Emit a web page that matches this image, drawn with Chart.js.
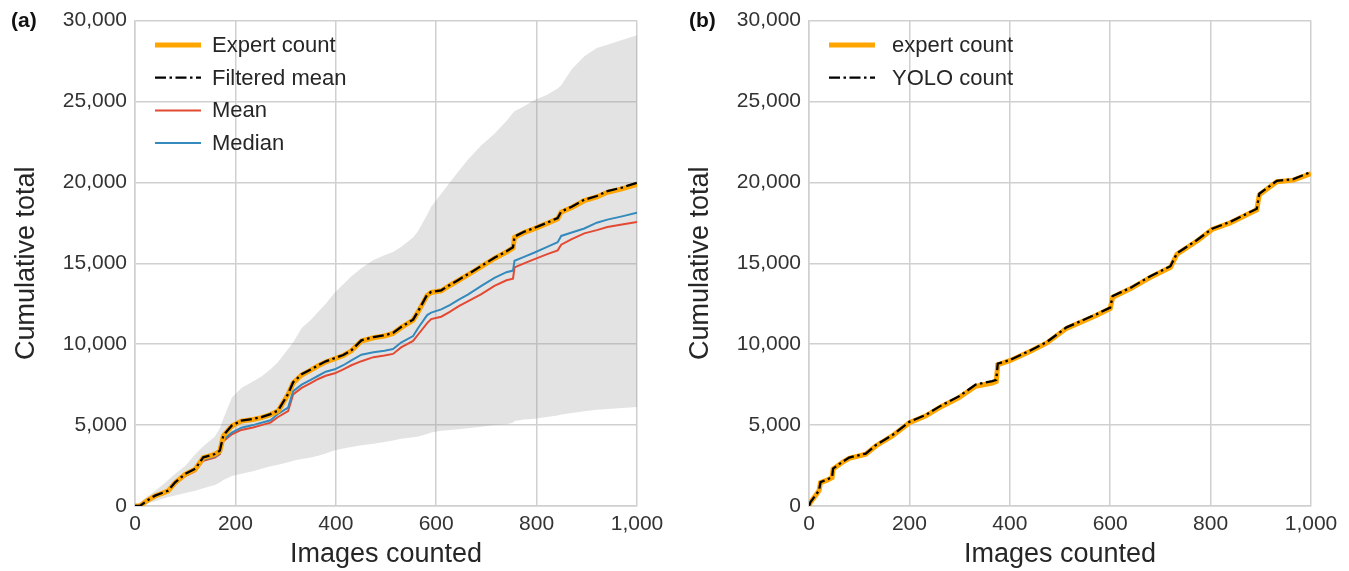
<!DOCTYPE html>
<html><head><meta charset="utf-8">
<script src="https://cdn.jsdelivr.net/npm/chart.js@4"></script>
<style>
html,body{margin:0;padding:0;background:#fff;}
body{width:1349px;height:571px;position:relative;overflow:hidden;font-family:"Liberation Sans",Arial,sans-serif;}
canvas{position:absolute;top:0;}
#ca{left:0;} #cb{left:674px;}
.lab{position:absolute;top:8px;font-weight:bold;font-size:21px;color:#111;line-height:24px;}
</style></head><body>
<canvas id="ca" width="674" height="571"></canvas>
<canvas id="cb" width="675" height="571"></canvas>
<div class="lab" style="left:11px">(a)</div>
<div class="lab" style="left:689px">(b)</div>
<script>
// ---- Panel (a) data ----
const imagesA = [0,10,25,40,55,66,80,100,120,136,159,169,176,193,212,235,252,270,285,305,315,332,350,365,380,398,415,431,451,475,497,514,530,554,564,582,590,610,627,645,663,690,716,740,753,756,775,796,820,842,849,870,895,920,941,970,1000];
const expertA = [0,0,350,620,800,930,1440,1960,2270,2990,3190,3400,4330,4950,5250,5350,5460,5650,5870,6900,7600,8100,8400,8670,8900,9100,9300,9590,10200,10400,10510,10670,11020,11490,12000,13020,13200,13300,13630,13950,14280,14800,15300,15700,15950,16600,16900,17140,17450,17750,18160,18450,18870,19100,19390,19600,19880];
const filteredA = [0,0,360,640,820,950,1460,1980,2300,3010,3210,3420,4360,4980,5270,5380,5490,5680,5900,6930,7650,8140,8430,8700,8940,9140,9330,9620,10240,10440,10550,10700,11060,11520,12040,13060,13230,13330,13660,13990,14320,14840,15340,15740,15990,16650,16950,17190,17500,17800,18200,18500,18930,19160,19460,19680,19980];
const meanA = [0,0,300,550,750,880,1350,1850,2150,2800,3000,3200,4000,4430,4700,4850,5000,5150,5500,5870,6900,7300,7600,7850,8050,8200,8450,8700,8950,9200,9300,9400,9800,10200,10600,11300,11550,11700,12000,12350,12650,13100,13600,13950,14050,14750,15000,15260,15550,15800,16150,16500,16850,17050,17240,17400,17560];
const medianA = [0,0,320,580,780,900,1400,1900,2200,2850,3050,3250,4100,4530,4840,5000,5150,5300,5700,6080,7100,7500,7800,8050,8300,8450,8700,9000,9350,9500,9600,9700,10100,10500,11000,11800,11950,12150,12410,12750,13060,13600,14100,14450,14550,15160,15400,15670,16000,16300,16690,16900,17150,17510,17700,17900,18120];
const upperA = [0,250,600,950,1300,1600,2000,2470,3200,3700,4300,4800,5400,6700,7300,7700,8000,8450,8900,9700,10100,11000,11500,12000,12500,13200,13700,14200,14700,15200,15500,15700,16000,16600,17000,18000,18500,19300,20000,20700,21400,22300,23000,23800,24300,24400,24700,25100,25400,25800,26000,27000,27800,28300,28500,28800,29100];
const lowerA = [0,50,150,300,450,550,650,800,950,1100,1300,1450,1600,1850,2000,2150,2300,2450,2550,2700,2800,2900,3000,3100,3250,3450,3550,3650,3750,3850,3950,4050,4150,4250,4300,4450,4550,4650,4700,4750,4800,4900,5000,5050,5150,5250,5350,5400,5500,5600,5650,5750,5850,5950,6000,6050,6120];

// ---- Panel (b) data ----
const imagesB = [0,3,20,23,36,46,48,66,80,113,133,166,200,232,265,298,332,365,373,376,400,440,473,513,573,600,605,640,680,720,733,773,803,839,892,897,932,965,1000];
const expertB = [0,225,940,1450,1600,1760,2280,2690,2950,3200,3710,4330,5150,5560,6170,6680,7400,7600,7700,8730,8980,9550,10060,10980,11790,12200,12910,13420,14130,14750,15560,16380,17090,17500,18310,19230,20040,20140,20550];
const yoloB = [0,240,960,1480,1630,1790,2310,2720,2990,3240,3760,4380,5200,5620,6240,6760,7500,7720,7800,8800,9020,9600,10120,11040,11860,12260,12980,13480,14200,14820,15620,16440,17140,17560,18370,19300,20100,20200,20650];

// ---- Axis tick settings ----
const xTicksStep = 200, xMin = 0, xMax = 1000;
const yTicksStep = 5000, yMin = 0, yMax = 30000;

const F = '"Liberation Sans", Arial, sans-serif';
const GRID = '#d0d0d0';

function pts(xs, ys){ return xs.map((x,i)=>({x:x, y:ys[i]})); }

function legendPlugin(lineX, textX, y0, dy){
  return { id:'customLegend', afterDatasetsDraw(chart){
    const ctx = chart.ctx; ctx.save();
    let i = 0;
    chart.data.datasets.forEach(ds=>{
      if(!ds.showInLegend) return;
      const y = y0 + i*dy; i++;
      ctx.beginPath(); ctx.strokeStyle = ds.borderColor; ctx.lineWidth = ds.borderWidth;
      ctx.setLineDash(ds.borderDash || []); ctx.lineCap='butt';
      ctx.moveTo(lineX, y); ctx.lineTo(lineX+46, y); ctx.stroke();
      ctx.setLineDash([]);
      ctx.fillStyle = '#262626'; ctx.font = '22px ' + F; ctx.textBaseline = 'middle'; ctx.textAlign='left';
      ctx.fillText(ds.label, textX, y+1);
    });
    ctx.restore();
  }};
}

function makeOpts(padRight){
  return {
    responsive:false, animation:false, devicePixelRatio:1,
    layout:{padding:{left:0,right:padRight,top:16,bottom:0}},
    plugins:{legend:{display:false}, tooltip:{enabled:false}},
    elements:{point:{radius:0}, line:{tension:0}},
    scales:{
      x:{type:'linear', min:xMin, max:xMax,
        afterFit(s){ s.height = 65; },
        ticks:{stepSize:xTicksStep, color:'#333', font:{family:F,size:21}, padding:6, maxRotation:0, autoSkip:false},
        grid:{color:GRID, lineWidth:1.5, drawTicks:false},
        border:{display:true, color:GRID, width:1.5},
        title:{display:true, text:'Images counted', color:'#262626', font:{family:F,size:27}, padding:{top:0,bottom:0}}
      },
      y:{type:'linear', min:yMin, max:yMax,
        afterFit(s){ s.width = 135; },
        ticks:{stepSize:yTicksStep, color:'#333', font:{family:F,size:21}, padding:8, autoSkip:false},
        grid:{color:GRID, lineWidth:1.5, drawTicks:false},
        border:{display:true, color:GRID, width:1.5},
        title:{display:true, text:'Cumulative total', color:'#262626', font:{family:F,size:27}, padding:{top:10,bottom:0}}
      }
    }
  };
}

new Chart(document.getElementById('ca'), {
  type:'line',
  data:{ datasets:[
    {label:'Expert count', data:pts(imagesA, expertA), borderColor:'#FFA500', borderWidth:5, order:1, showInLegend:true, fill:false},
    {label:'Filtered mean', data:pts(imagesA, filteredA), borderColor:'#000000', borderWidth:2.3, borderDash:[11,3.5,2.5,3.5], order:0, showInLegend:true, fill:false},
    {label:'Mean', data:pts(imagesA, meanA), borderColor:'#E24A33', borderWidth:2, order:3, showInLegend:true, fill:false},
    {label:'Median', data:pts(imagesA, medianA), borderColor:'#348ABD', borderWidth:2, order:2, showInLegend:true, fill:false},
    {label:'Lower', data:pts(imagesA, lowerA), borderColor:'rgba(0,0,0,0)', borderWidth:0, order:5, fill:false},
    {label:'Upper', data:pts(imagesA, upperA), borderColor:'rgba(0,0,0,0)', borderWidth:0, order:4, fill:'-1', backgroundColor:'rgba(150,150,150,0.27)'}
  ]},
  options:makeOpts(37),
  plugins:[legendPlugin(155, 212, 45, 32.7)]
});

new Chart(document.getElementById('cb'), {
  type:'line',
  data:{ datasets:[
    {label:'expert count', data:pts(imagesB, expertB), borderColor:'#FFA500', borderWidth:5, order:1, showInLegend:true, fill:false},
    {label:'YOLO count', data:pts(imagesB, yoloB), borderColor:'#000000', borderWidth:2.3, borderDash:[11,3.5,2.5,3.5], order:0, showInLegend:true, fill:false}
  ]},
  options:makeOpts(38),
  plugins:[legendPlugin(155, 218, 45, 32.7)]
});
</script>
</body></html>
